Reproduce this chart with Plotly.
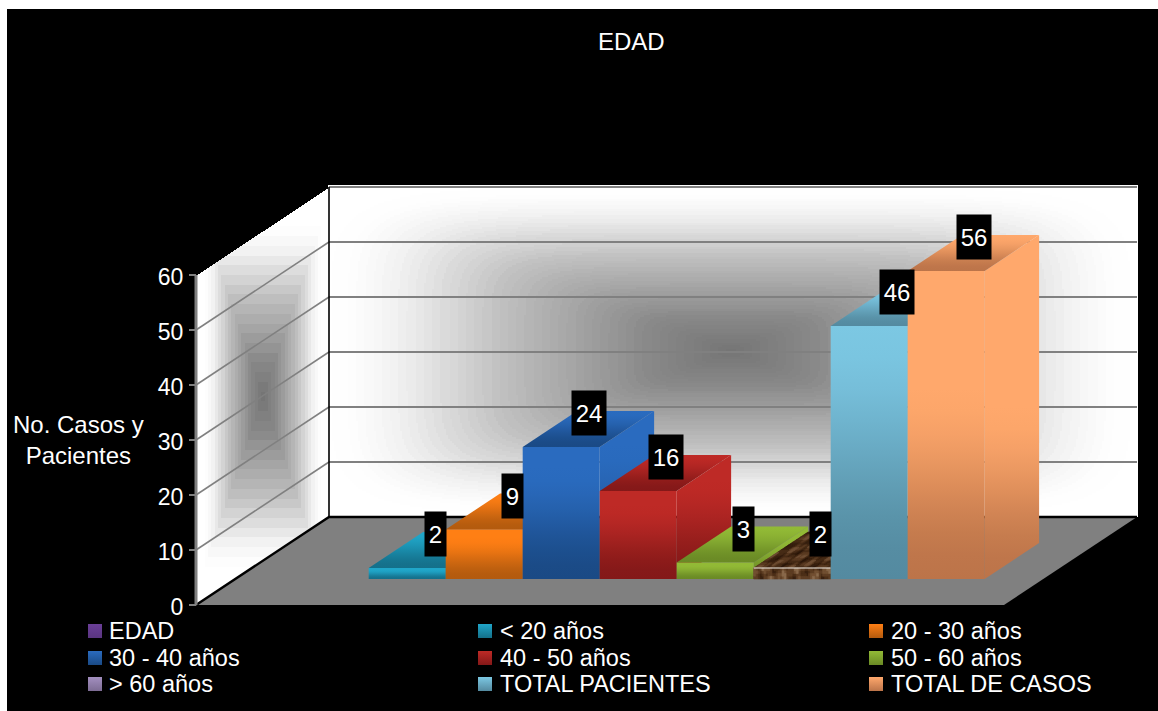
import math
import numpy as np
import plotly.graph_objects as go

# Series of the "EDAD" chart, in the order they sit along the front of the plot
series_names = ["EDAD", "< 20 años", "20 - 30 años", "30 - 40 años", "40 - 50 años",
                "50 - 60 años", "> 60 años", "TOTAL PACIENTES", "TOTAL DE CASOS"]
series_values = [None, 2, 9, 24, 16, 3, 2, 46, 56]
tick_values = [0, 10, 20, 30, 40, 50, 60]
chart_title = "EDAD"
axis_title = "No. Casos y<br>Pacientes"

# (bright, dark) shades per series
series_shades = [("#6B3F98", "#5A3580"), ("#20A6C9", "#14708A"), ("#FF7F14", "#B35A0E"),
                 ("#2A6BBF", "#1A4A85"), ("#BE2A26", "#841818"), ("#92BA36", "#6A8A25"),
                 ("#A38FC0", "#7D6C94"), ("#7CC8E3", "#548AA0"), ("#FFA86C", "#BC7449")]

WIDTH, HEIGHT = 1158, 711
FONT = "Liberation Sans, Arial, sans-serif"
TEXT_SIZE = 24
LEGEND_SIZE = 23.5
TICK_SIZE = 23

# Axis scales: one unit of x is one series slot, one unit of y is one case
PX_PER_SLOT, PX_PER_CASE = 77.0, 5.5
ORIGIN_X, ORIGIN_Y = 252.4, 605.0

# Oblique projection: depth 0 is the front of the floor, depth 1 the back wall
DEPTH_SLOTS = 133.0 / PX_PER_SLOT
DEPTH_CASES = 88.0 / PX_PER_CASE
FLOOR_L = (196.0 - ORIGIN_X) / PX_PER_SLOT
FLOOR_R = (1004.0 - ORIGIN_X) / PX_PER_SLOT
BAR_FRONT, BAR_BACK = 26.0 / 88.0, 62.0 / 88.0
TOP = 60


def proj(slot, cases, depth):
    return slot + depth * DEPTH_SLOTS, cases + depth * DEPTH_CASES


def px_x(px):
    return (px - ORIGIN_X) / PX_PER_SLOT


def px_y(py):
    return (ORIGIN_Y - py) / PX_PER_CASE


fig = go.Figure()


def polygon(points, name, color=None, stops=None):
    xs, ys = zip(*[proj(*p) for p in points])
    add_poly(list(xs), list(ys), name, color, stops)


def add_poly(xs, ys, name, color=None, stops=None):
    kw = {}
    if stops:
        kw["fillgradient"] = dict(type="vertical", colorscale=stops)
    else:
        kw["fillcolor"] = color
    fig.add_trace(go.Scatter(x=xs + xs[:1], y=ys + ys[:1], mode="lines", line=dict(width=0),
                             fill="toself", name=name, hoverinfo="skip", showlegend=False, **kw))


def line(points, color, width, name="line"):
    xs, ys = zip(*[proj(*p) for p in points])
    fig.add_trace(go.Scatter(x=list(xs), y=list(ys), mode="lines", name=name, hoverinfo="skip",
                             showlegend=False, line=dict(color=color, width=width)))


def ease_stops(hi, lo, knee):
    # Vertical ramp from the dark shade at the foot to the bright shade at the knee
    a = [int(lo[i:i + 2], 16) for i in (1, 3, 5)]
    b = [int(hi[i:i + 2], 16) for i in (1, 3, 5)]
    stops = []
    for k in range(9):
        t = k / 8
        f = t * t * (3 - 2 * t)
        c = [round(p + (q - p) * f) for p, q in zip(a, b)]
        stops.append([round(t * knee, 4), "rgb(%d,%d,%d)" % tuple(c)])
    if knee < 1:
        stops.append([1, hi])
    return stops


WALL_SCALE = [[0, "#757575"], [0.2, "#888888"], [0.57, "#C0C0C0"], [0.82, "#F0F0F0"],
              [0.93, "#FDFDFD"], [1, "#FFFFFF"]]


def wall(xs_px, ys_px, z):
    fig.add_trace(go.Heatmap(x=[px_x(v) for v in xs_px], y=[px_y(v) for v in ys_px], z=z,
                             colorscale=WALL_SCALE, zmin=0, zmax=1, showscale=False,
                             hoverinfo="skip", name="wall"))


# Back wall: soft rectangular falloff around the middle of the wall
bx = np.arange(329.0, 1138.0, 2.0)
by = np.arange(186.0, 518.0, 2.0)
bu, bv = np.meshgrid(np.abs(bx - 731.0) / 404.0, np.abs(by - 351.0) / 165.0)
bt = np.clip((bu ** 6 + bv ** 6) ** (1 / 6), 0, 1)
wall(bx.tolist(), by.tolist(), (np.round(bt * 48) / 48).round(3).tolist())

# Side wall: stepped rectangles, clipped to the sheared wall outline
lx = np.arange(196.0, 330.0, 1.0)
ly = np.arange(186.0, 606.0, 1.0)
gx, gy = np.meshgrid(lx, ly)
depth = (gx - 196.0) / 133.0
height = (605.0 - gy - 88.0 * depth) / 330.0
lt = np.maximum(np.abs(gx - 262.5) / 60.0, np.abs(gy - 396.0) / 175.0)
lt = np.round(np.clip(lt, 0, 1) * 18) / 18
lt[(height < 0) | (height > 1)] = np.nan
wall(lx.tolist(), ly.tolist(), [[None if math.isnan(c) else round(float(c), 3) for c in row] for row in lt])

# Floor
polygon([(FLOOR_L, 0, 0), (FLOOR_R, 0, 0), (FLOOR_R, 0, 1), (FLOOR_L, 0, 1)], "floor", "#808080")

# Gridlines on both walls
for v in tick_values[1:-1]:
    line([(FLOOR_L, v, 0), (FLOOR_L, v, 1)], "#808080", 1.6, "grid")
for v in tick_values[1:]:
    line([(FLOOR_L, v, 1), (FLOOR_R, v, 1)], "#808080", 2.0, "grid")

# Wall edges
line([(FLOOR_L, 0, 0), (FLOOR_L, 0, 1), (FLOOR_R, 0, 1)], "#000000", 2.4, "edge")
line([(FLOOR_L, 0, 1), (FLOOR_L, TOP, 1)], "#000000", 1.6, "edge")
line([(FLOOR_L, 0, 0), (FLOOR_L, TOP, 0)], "#808080", 3.0, "axis")


def brown_tone(i, j, seed):
    n = (math.sin(i * 0.83 + j * 0.41 + seed) + math.sin(i * 0.37 - j * 1.13 + 2 * seed)
         + 0.6 * math.sin(i * 1.9 + j * 0.7 - seed))
    return min(4, max(0, int((n + 2.6) / 5.2 * 5)))


def textured(corners, name, browns, seed):
    # Wood-like grain for the bar that carries a texture rather than a gradient
    polygon(corners, name, browns[1])
    (a, b, c, d) = [proj(*p) for p in corners]
    cells = {k: ([], []) for k in range(5)}
    nu = 38
    nv = max(4, int(abs(d[1] - a[1]) * PX_PER_CASE / 2.5))
    for i in range(nu):
        for j in range(nv):
            u0, u1, v0, v1 = i / nu, (i + 1) / nu, j / nv, (j + 1) / nv
            quad = []
            for u, v in ((u0, v0), (u1, v0), (u1, v1), (u0, v1), (u0, v0)):
                quad.append((a[0] + (b[0] - a[0]) * u + (d[0] - a[0]) * v,
                             a[1] + (b[1] - a[1]) * u + (d[1] - a[1]) * v))
            k = brown_tone(i, j, seed)
            cells[k][0].extend([q[0] for q in quad] + [None])
            cells[k][1].extend([q[1] for q in quad] + [None])
    for k, (xs, ys) in cells.items():
        fig.add_trace(go.Scatter(x=xs, y=ys, mode="lines", line=dict(width=0.6, color=browns[k]),
                                 fill="toself", fillcolor=browns[k], name=name,
                                 hoverinfo="skip", showlegend=False))


KNEES = {"TOTAL PACIENTES": 1.0, "TOTAL DE CASOS": 0.62}
SIDE_KNEES = {"TOTAL PACIENTES": 0.9, "TOTAL DE CASOS": 0.5}

# Bars, painted from left to right so that each one overlaps its neighbour's side
for idx, (name, value, (hi, lo)) in enumerate(zip(series_names, series_values, series_shades)):
    if value is None:
        continue
    s0, s1 = idx, idx + 1
    front = [(s0, 0, BAR_FRONT), (s1, 0, BAR_FRONT), (s1, value, BAR_FRONT), (s0, value, BAR_FRONT)]
    side = [(s1, 0, BAR_FRONT), (s1, 0, BAR_BACK), (s1, value, BAR_BACK), (s1, value, BAR_FRONT)]
    top = [(s0, value, BAR_FRONT), (s1, value, BAR_FRONT), (s1, value, BAR_BACK), (s0, value, BAR_BACK)]
    if name == "> 60 años":
        textured(top, name, ["#2C170A", "#38200F", "#472B16", "#5A3B22", "#6E4E33"], 0.4)
        textured(front, name, ["#3A2211", "#4C2F18", "#5E3E24", "#725033", "#8A6A4C"], 1.9)
        line([(s0, value, BAR_FRONT), (s1, value, BAR_FRONT)], "#F4F0EA", 1.2, name)
        continue
    polygon(side, name, stops=ease_stops(hi, lo, SIDE_KNEES.get(name, 0.8)))
    polygon(top, name, stops=ease_stops(hi, lo, 1.0))
    polygon(front, name, stops=ease_stops(hi, lo, KNEES.get(name, 0.85)))

# Legend swatches and entries, three rows of three
LEGEND_COLS = [88.0, 478.0, 869.0]
LEGEND_TEXT = [106.5, 497.5, 888.5]
LEGEND_ROWS = [624.0, 651.0, 677.0]
annotations = []
for idx, (name, (hi, lo)) in enumerate(zip(series_names, series_shades)):
    col, row = idx % 3, idx // 3
    x0, y0 = LEGEND_COLS[col], LEGEND_ROWS[row]
    add_poly([px_x(x0), px_x(x0 + 14), px_x(x0 + 14), px_x(x0)],
             [px_y(y0), px_y(y0), px_y(y0 + 14), px_y(y0 + 14)],
             name, stops=[[0, lo], [1, hi]])
    annotations.append(dict(x=px_x(LEGEND_TEXT[col]), y=px_y(y0 + 6.5), xref="x", yref="y", text=name,
                            showarrow=False, xanchor="left", yanchor="middle",
                            font=dict(family=FONT, size=LEGEND_SIZE, color="#FFFFFF")))

# Value labels on black plates above the bar tops
for idx, value in enumerate(series_values):
    if value is None:
        continue
    cx, cy = proj(idx + 0.5, value, (BAR_FRONT + BAR_BACK) / 2)
    text = str(value)
    annotations.append(dict(x=cx, y=cy, xref="x", yref="y", text=text, showarrow=False,
                            xanchor="center", yanchor="middle", xshift=1, yshift=16,
                            width=34 if len(text) > 1 else 21, height=44, bgcolor="#000000",
                            borderpad=0, font=dict(family=FONT, size=TEXT_SIZE, color="#FFFFFF")))

annotations.append(dict(x=px_x(631), y=px_y(41), xref="x", yref="y", text=chart_title, showarrow=False,
                        font=dict(family=FONT, size=TEXT_SIZE, color="#FFFFFF")))
annotations.append(dict(x=px_x(78), y=px_y(439.5), xref="x", yref="y", text=axis_title, showarrow=False,
                        align="center", font=dict(family=FONT, size=TEXT_SIZE, color="#FFFFFF")))

fig.update_layout(
    width=WIDTH, height=HEIGHT, margin=dict(l=0, r=0, t=0, b=0, pad=0),
    paper_bgcolor="#FFFFFF", plot_bgcolor="rgba(0,0,0,0)", showlegend=False,
    annotations=annotations,
    shapes=[dict(type="rect", xref="paper", yref="paper", layer="below", line_width=0,
                 fillcolor="#000000", x0=7 / WIDTH, x1=1, y0=0, y1=1 - 9 / HEIGHT)],
    xaxis=dict(range=[px_x(0), px_x(WIDTH)], domain=[0, 1], visible=False, fixedrange=True),
    yaxis=dict(range=[px_y(HEIGHT), px_y(0)], domain=[0, 1], anchor="free", position=196 / WIDTH,
               tickmode="array", tickvals=tick_values, ticktext=[str(v) for v in tick_values],
               ticks="outside", ticklen=7, tickwidth=2, tickcolor="#808080", showgrid=False,
               zeroline=False, showline=False, fixedrange=True, ticklabelstandoff=1,
               ticklabelshift=2,
               tickfont=dict(family=FONT, size=TICK_SIZE, color="#FFFFFF")),
)

fig.write_html("out.html", config=dict(displayModeBar=False))
